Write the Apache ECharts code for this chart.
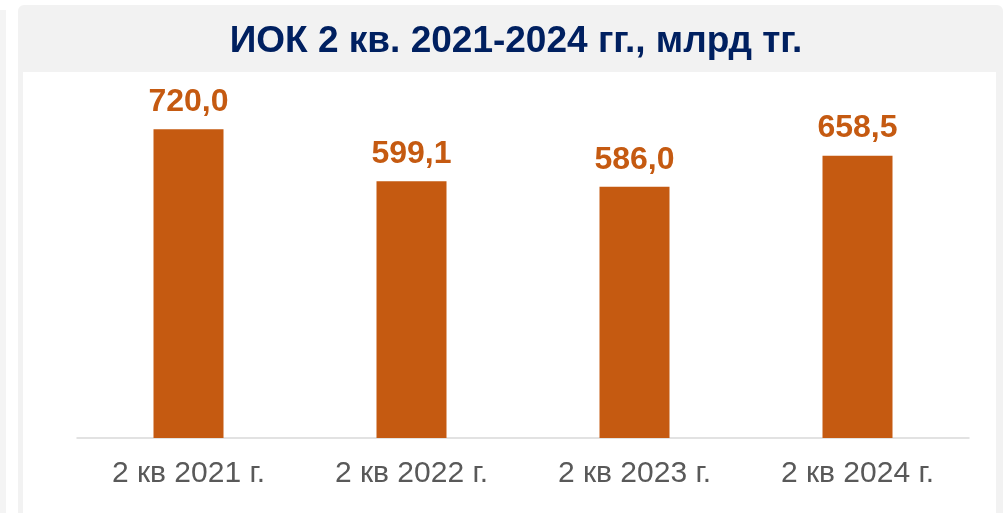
<!DOCTYPE html>
<html>
<head>
<meta charset="utf-8">
<script src="https://cdn.jsdelivr.net/npm/echarts@6/dist/echarts.min.js"></script>
<style>
  body { margin: 0; background: #fff; }
  .frame { position: absolute; left: 18px; top: 5px; width: 985px; height: 520px; background: #f2f2f2; border-radius: 6px 6px 0 0; }
  .inner { position: absolute; left: 23px; top: 72px; width: 973px; height: 450px; background: #fff; }
  .edge { position: absolute; left: 0; top: 10px; width: 6px; height: 510px; background: #f4f4f4; }
  #main { position: absolute; left: 0; top: 0; width: 1006px; height: 513px; }
</style>
</head>
<body>
<div class="edge"></div>
<div class="frame"></div>
<div class="inner"></div>
<div id="main"></div>
<script>
  // подписи категорий и значения ИОК, млрд тг.
  var categories = ['2 кв 2021 г.', '2 кв 2022 г.', '2 кв 2023 г.', '2 кв 2024 г.'];
  var values = [720.0, 599.1, 586.0, 658.5];

  var myChart = echarts.init(document.getElementById('main'));
  var option = {
    backgroundColor: 'transparent',
    title: {
      text: 'ИОК 2 кв. 2021-2024 гг., млрд тг.',
      left: 511,
      top: 18,
      textAlign: 'center',
      textStyle: {
        fontFamily: 'Liberation Sans, Arial',
        fontWeight: 'bold',
        fontSize: 37,
        color: '#002060'
      }
    },
    grid: {
      left: 77,
      right: 37,
      top: 95,
      height: 343
    },
    xAxis: {
      type: 'category',
      data: categories,
      axisLine: { lineStyle: { color: '#d9d9d9', width: 1.5 } },
      axisTick: { show: false },
      axisLabel: {
        margin: 21,
        fontFamily: 'Liberation Sans, Arial',
        fontSize: 30,
        color: '#595959'
      }
    },
    yAxis: {
      type: 'value',
      min: 0,
      max: 800,
      show: false,
      splitLine: { show: false }
    },
    series: [
      {
        type: 'bar',
        data: values,
        barWidth: 70,
        itemStyle: { color: '#C55A11' },
        label: {
          show: true,
          position: 'top',
          distance: 11,
          fontFamily: 'Liberation Sans, Arial',
          fontWeight: 'bold',
          fontSize: 32,
          color: '#C55A11',
          formatter: function (p) {
            return p.value.toFixed(1).replace('.', ',');
          }
        }
      }
    ]
  };
  myChart.setOption(option);
</script>
</body>
</html>
